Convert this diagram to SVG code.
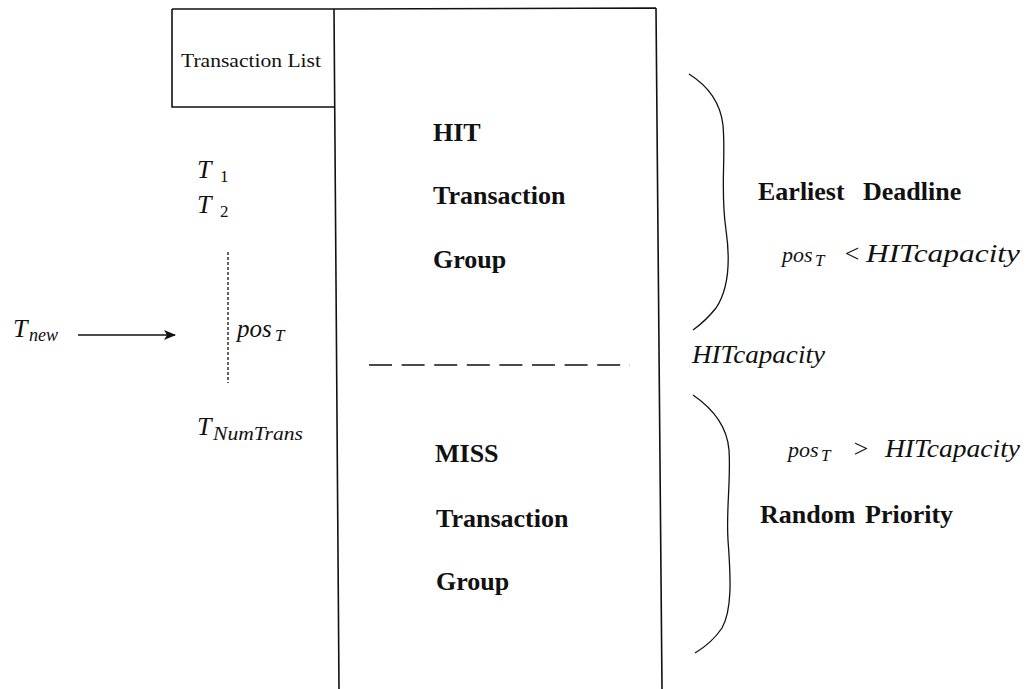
<svg xmlns="http://www.w3.org/2000/svg" width="1032" height="689" viewBox="0 0 1032 689">
<style>
.ln{fill:none;stroke:#111;stroke-width:1.6}
.thin{fill:none;stroke:#111;stroke-width:1.3}
.b{font-family:"Liberation Serif",serif;font-weight:bold;font-size:26px;fill:#111}
.i{font-family:"Liberation Serif",serif;font-style:italic;font-size:26px;fill:#111}
.r{font-family:"Liberation Serif",serif;fill:#111}
</style>
<defs>
<marker id="ah" markerWidth="12" markerHeight="10" refX="11" refY="5" orient="auto" markerUnits="userSpaceOnUse">
<path d="M0,0 L12,5 L0,10 L3,5 Z" fill="#111"/>
</marker>
</defs>
<rect width="1032" height="689" fill="#fff"/>

<g id="transaction-list">
<path class="ln" d="M172,9 L334,9 M172,9 L172,107 L334,107"/>
<text class="r" x="181" y="67" font-size="18" textLength="140" lengthAdjust="spacingAndGlyphs">Transaction List</text>
</g>

<g id="group-box">
<path class="ln" d="M334,9 L656,8 M334,9 L339,689 M656,8 L662,689"/>
<path class="thin" d="M369,365 L630,365" stroke-dasharray="23 9.6"/>
</g>

<g id="hit-group">
<text class="b" x="433" y="141">HIT</text>
<text class="b" x="433" y="204">Transaction</text>
<text class="b" x="433" y="268">Group</text>
</g>

<g id="miss-group">
<text class="b" x="435" y="462">MISS</text>
<text class="b" x="436" y="527">Transaction</text>
<text class="b" x="436" y="590">Group</text>
</g>

<g id="list-items">
<text class="i" x="197" y="178">T<tspan class="r" x="220" dy="4" font-size="17" font-style="normal">1</tspan></text>
<text class="i" x="197" y="213">T<tspan class="r" x="220" dy="4" font-size="17" font-style="normal">2</tspan></text>
<path class="thin" d="M228,252 L228,383" stroke-dasharray="3 2"/>
<text class="i" x="237" y="337"><tspan font-size="25">pos</tspan><tspan x="275" dy="4" font-size="17">T</tspan></text>
<text class="i" x="197" y="435">T<tspan x="213" dy="5" font-size="18" textLength="90" lengthAdjust="spacingAndGlyphs">NumTrans</tspan></text>
</g>

<g id="t-new">
<text class="i" x="13" y="337">T<tspan x="29" dy="4" font-size="19" textLength="29" lengthAdjust="spacingAndGlyphs">new</tspan></text>
</g>

<g id="connectors">
<path class="ln" d="M78,335 L175,335" marker-end="url(#ah)"/>
</g>

<g id="hit-brace">
<path class="thin" d="M689,74 C705,84 720,100 723,125 C726,160 720,190 726,230 C731,265 728,290 716,308 C708,318 700,325 693,330"/>
<text class="b" x="758" y="200">Earliest<tspan x="863">Deadline</tspan></text>
<text class="i" x="782" y="262"><tspan font-size="22">pos</tspan><tspan x="815" dy="4" font-size="17">T</tspan><tspan x="843" dy="-4">&lt;</tspan><tspan x="866" textLength="154" lengthAdjust="spacingAndGlyphs">HITcapacity</tspan></text>
</g>

<g id="hit-capacity">
<text class="i" x="692" y="363" textLength="133" lengthAdjust="spacingAndGlyphs">HITcapacity</text>
</g>

<g id="miss-brace">
<path class="thin" d="M693,395 C712,408 727,425 729,450 C731,480 726,510 728,540 C731,580 732,610 722,628 C714,640 705,647 695,653"/>
<text class="i" x="788" y="457"><tspan font-size="22">pos</tspan><tspan x="821" dy="4" font-size="17">T</tspan><tspan x="852" dy="-4">&gt;</tspan><tspan x="885" textLength="135" lengthAdjust="spacingAndGlyphs">HITcapacity</tspan></text>
<text class="b" x="760" y="523">Random<tspan x="865">Priority</tspan></text>
</g>
</svg>
